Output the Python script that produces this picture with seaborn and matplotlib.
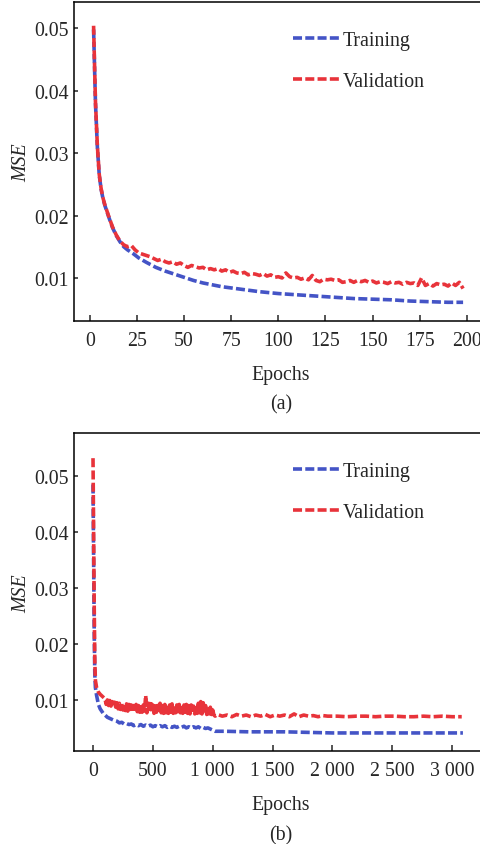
import matplotlib
matplotlib.use('Agg')

import matplotlib.pyplot as plt
import pandas as pd
import numpy as np
import seaborn as sns

# (a) 200 epochs
a_train_epoch = [2, 3, 4, 5, 6, 7, 8, 10, 12, 14, 16, 18, 20, 23, 26, 30, 35, 40, 45, 50,
                 55, 60, 65, 70, 75, 80, 90, 100, 110, 120, 130, 140, 150, 160, 170, 180, 190, 198]
a_train_mse = [0.0498, 0.0380, 0.0310, 0.0265, 0.0242, 0.0227, 0.0216, 0.0198, 0.0181, 0.0168,
               0.0158, 0.0150, 0.0145, 0.0139, 0.0132, 0.0125, 0.0117, 0.0111, 0.0106, 0.0101,
               0.0096, 0.0092, 0.0089, 0.0086, 0.0084, 0.0082, 0.0078, 0.0075, 0.0073, 0.0071,
               0.0069, 0.0067, 0.0066, 0.0065, 0.0063, 0.0062, 0.0061, 0.0061]

a_val_epoch = [2, 3, 4, 5, 6, 7, 8, 10, 12, 14, 16] + list(range(18, 200, 2))
a_val_mse = [0.0504, 0.0382, 0.0312, 0.0266, 0.0243, 0.0228, 0.0217, 0.0199, 0.0182, 0.0169, 0.0159,
             0.0153, 0.0150, 0.0152, 0.0145, 0.0140, 0.0138, 0.0136, 0.0134, 0.0131, 0.0128,
             0.0130, 0.0126, 0.0124, 0.0126, 0.0122, 0.0124, 0.0120, 0.0117, 0.0120, 0.0118,
             0.0116, 0.0117, 0.0113, 0.0115, 0.0113, 0.0115, 0.0111, 0.0113, 0.0109, 0.0111,
             0.0108, 0.0107, 0.0109, 0.0105, 0.0107, 0.0106, 0.0104, 0.0107, 0.0103, 0.0105,
             0.0101, 0.0102, 0.0100, 0.0108, 0.0102, 0.0100, 0.0101, 0.0098, 0.0100, 0.0097,
             0.0104, 0.0096, 0.0094, 0.0098, 0.0097, 0.0098, 0.0096, 0.0097, 0.0093, 0.0094,
             0.0096, 0.0093, 0.0096, 0.0094, 0.0096, 0.0093, 0.0095, 0.0092, 0.0094, 0.0093,
             0.0091, 0.0094, 0.0092, 0.0093, 0.0090, 0.0093, 0.0091, 0.0092, 0.0088, 0.0100,
             0.0088, 0.0091, 0.0087, 0.0091, 0.0089, 0.0090, 0.0087, 0.0092, 0.0088, 0.0093,
             0.0083]

# (b) ~3100 epochs
b_train_epoch = ([0, 5, 10, 15, 20, 30, 45, 60, 85, 120, 170] + list(range(200, 1000, 20))
                 + [1000, 1020, 1100, 1300, 1600, 1800, 2000, 2500, 3090])
b_train_mse = ([0.0485, 0.0350, 0.0220, 0.0145, 0.0122, 0.0108, 0.0092, 0.0084, 0.0076, 0.0069,
                0.0064]
               + [0.0062, 0.0059, 0.0060, 0.0057, 0.0058, 0.0056, 0.0057, 0.0054, 0.0056, 0.0054,
                  0.0056, 0.0053, 0.0055, 0.0053, 0.0055, 0.0052, 0.0054, 0.0052, 0.0054, 0.0052,
                  0.0054, 0.0051, 0.0053, 0.0051, 0.0053, 0.0051, 0.0053, 0.0051, 0.0053, 0.0050,
                  0.0052, 0.0050, 0.0052, 0.0050, 0.0052, 0.0049, 0.0051, 0.0049, 0.0050, 0.0048]
               + [0.0046, 0.0044, 0.0044, 0.0043, 0.0043, 0.0042, 0.0041, 0.0041, 0.0041])

b_val_epoch = ([0, 5, 10, 15, 20, 30, 45, 60, 80] + list(range(100, 1001, 10))
               + [1010, 1020] + list(range(1040, 1921, 40)) + list(range(1960, 3081, 80)))
b_val_mse = ([0.0532, 0.0400, 0.0270, 0.0170, 0.0135, 0.0122, 0.0114, 0.0110, 0.0106]
             + [0.0102, 0.0092, 0.0100, 0.0090, 0.0099, 0.0089, 0.0097, 0.0088, 0.0096, 0.0087,
                0.0095, 0.0084, 0.0094, 0.0083, 0.0093, 0.0082, 0.0092, 0.0081, 0.0093, 0.0080,
                0.0092, 0.0080, 0.0091, 0.0079, 0.0090, 0.0078, 0.0092, 0.0079, 0.0090, 0.0078,
                0.0093, 0.0078, 0.0091, 0.0080, 0.0108, 0.0077, 0.0094, 0.0078, 0.0099, 0.0077,
                0.0091, 0.0076, 0.0093, 0.0078, 0.0090, 0.0076, 0.0094, 0.0077, 0.0090, 0.0076,
                0.0092, 0.0077, 0.0090, 0.0076, 0.0091, 0.0078, 0.0093, 0.0076, 0.0090, 0.0077,
                0.0091, 0.0076, 0.0092, 0.0077, 0.0090, 0.0076, 0.0091, 0.0078, 0.0092, 0.0076,
                0.0090, 0.0075, 0.0091, 0.0076, 0.0089, 0.0075, 0.0092, 0.0076, 0.0094, 0.0077,
                0.0097, 0.0075, 0.0095, 0.0076, 0.0090, 0.0074, 0.0088, 0.0075, 0.0087, 0.0074,
                0.0082]
             + [0.0073, 0.0071]
             + [0.0074, 0.0071, 0.0073, 0.0070, 0.0074, 0.0071, 0.0073, 0.0070, 0.0073, 0.0071,
                0.0074, 0.0070, 0.0073, 0.0071, 0.0073, 0.0070, 0.0075, 0.0070, 0.0073, 0.0071,
                0.0072, 0.0070, 0.0072]
             + [0.0071, 0.0071, 0.0070, 0.0071, 0.0071, 0.0070, 0.0071, 0.0071, 0.0070, 0.0070,
                0.0071, 0.0070, 0.0071, 0.0070, 0.0070])

labels = ['Training', 'Validation']
colors = ['#4454c6', '#e8333a']


def long_df(train_x, train_y, val_x, val_y):
    d1 = pd.DataFrame({'Epochs': train_x, 'MSE': train_y, 'series': labels[0]})
    d2 = pd.DataFrame({'Epochs': val_x, 'MSE': val_y, 'series': labels[1]})
    return pd.concat([d1, d2], ignore_index=True)


sns.set_style('ticks')
plt.rcParams['font.family'] = ['Liberation Serif', 'DejaVu Serif']

fig = plt.figure(figsize=(4.81, 8.45), dpi=100)
ax_a = fig.add_axes([0.1538, 0.6189, 0.8462, 0.3775])
ax_b = fig.add_axes([0.1538, 0.1101, 0.8462, 0.3763])

panels = [
    (ax_a, long_df(a_train_epoch, a_train_mse, a_val_epoch, a_val_mse),
     (-8.4, 207.5), (0.0031, 0.0542), [0, 25, 50, 75, 100, 125, 150, 175, 200],
     ['0', '25', '50', '75', '100', '125', '150', '175', '200']),
    (ax_b, long_df(b_train_epoch, b_train_mse, b_val_epoch, b_val_mse),
     (-159, 3241), (0.00088, 0.0577), [0, 500, 1000, 1500, 2000, 2500, 3000],
     ['0', '500', '1 000', '1 500', '2 000', '2 500', '3 000']),
]

for ax, df, xl, yl, xt, xtl in panels:
    sns.lineplot(data=df, x='Epochs', y='MSE', hue='series', style='series',
                 palette=colors, dashes=[(2.5, 0.9), (2.5, 0.9)], linewidth=2.6,
                 estimator=None, errorbar=None, sort=False, ax=ax)
    ax.set_xlim(*xl)
    ax.set_ylim(*yl)
    ax.set_xticks(xt)
    ax.set_xticklabels(xtl)
    ax.set_yticks([0.01, 0.02, 0.03, 0.04, 0.05])
    ax.set_yticklabels(['0.01', '0.02', '0.03', '0.04', '0.05'])
    ax.set_xlabel('')
    ax.set_ylabel('')
    ax.tick_params(axis='x', direction='in', length=4, width=1.1, pad=7.5, labelsize=14.3)
    ax.tick_params(axis='y', direction='in', length=3, width=1.1, pad=4, labelsize=14.3)
    for s in ['left', 'bottom', 'top']:
        ax.spines[s].set_linewidth(1.1)
        ax.spines[s].set_color('black')
    ax.spines['right'].set_visible(False)
    ax.legend(loc='upper left', bbox_to_anchor=(0.538, 0.909), frameon=False,
              fontsize=14.3, handlelength=2.35, handletextpad=0.15, labelspacing=1.1,
              borderpad=0, borderaxespad=0)

fig.text(0.046, 0.807, 'MSE', rotation=90, style='italic', fontsize=14.3, ha='center', va='center')
fig.text(0.046, 0.298, 'MSE', rotation=90, style='italic', fontsize=14.3, ha='center', va='center')
fig.text(0.584, 0.556, 'Epochs', fontsize=14.3, ha='center', va='center')
fig.text(0.584, 0.521, '(a)', fontsize=14.3, ha='center', va='center')
fig.text(0.584, 0.047, 'Epochs', fontsize=14.3, ha='center', va='center')
fig.text(0.584, 0.011, '(b)', fontsize=14.3, ha='center', va='center')

plt.savefig('out.png', dpi=100)
